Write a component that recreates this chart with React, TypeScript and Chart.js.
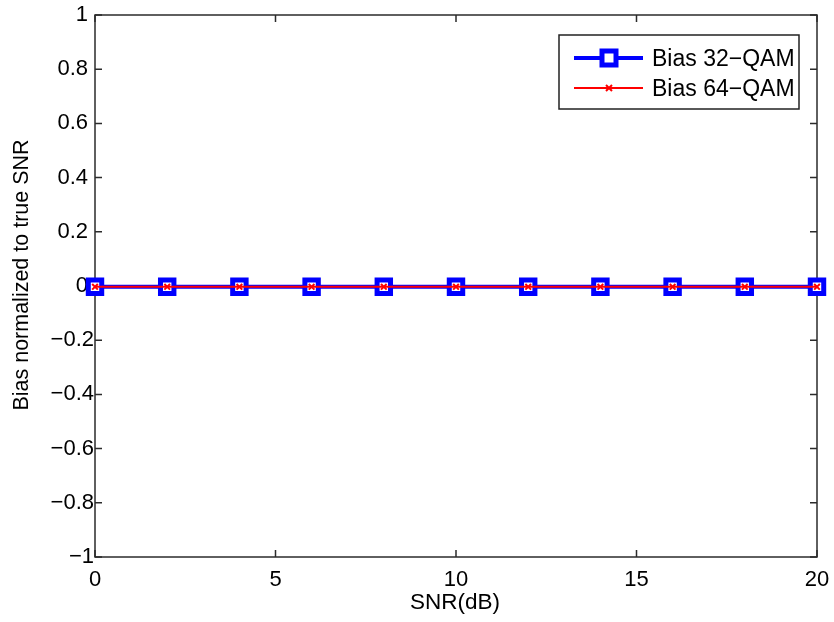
import React, { useEffect, useRef } from 'react';
import { Chart, registerables } from 'chart.js';

Chart.register(...registerables);

const snrDb = [0, 2, 4, 6, 8, 10, 12, 14, 16, 18, 20];
const bias32 = [-0.003, -0.003, -0.003, -0.003, -0.003, -0.003, -0.003, -0.003, -0.003, -0.003, -0.003];
const bias64 = [-0.003, -0.003, -0.003, -0.003, -0.003, -0.003, -0.003, -0.003, -0.003, -0.003, -0.003];
const xTicks = [0, 5, 10, 15, 20];
const xTickLabels = ['0', '5', '10', '15', '20'];
const yTicks = [-1, -0.8, -0.6, -0.4, -0.2, 0, 0.2, 0.4, 0.6, 0.8, 1];
const yTickLabels = ['\u22121', '\u22120.8', '\u22120.6', '\u22120.4', '\u22120.2', '0', '0.2', '0.4', '0.6', '0.8', '1'];
const seriesNames = ['Bias 32\u2212QAM', 'Bias 64\u2212QAM'];
const xTitle = 'SNR(dB)';
const yTitle = 'Bias normalized to true SNR';

const FONT = 'Arial, "Liberation Sans", sans-serif';

const matlabAxes = {
  id: 'matlabAxes',
  beforeDatasetsDraw(chart: any) {
    const { ctx, chartArea: a, scales } = chart;
    const xs = scales.x;
    const ys = scales.y;
    ctx.save();
    ctx.strokeStyle = '#2b2b2b';
    ctx.lineWidth = 1.5;
    ctx.strokeRect(a.left, a.top, a.right - a.left, a.bottom - a.top);
    const tl = 7;
    ctx.beginPath();
    xTicks.forEach((v) => {
      const px = xs.getPixelForValue(v);
      ctx.moveTo(px, a.bottom);
      ctx.lineTo(px, a.bottom - tl);
      ctx.moveTo(px, a.top);
      ctx.lineTo(px, a.top + tl);
    });
    yTicks.forEach((v) => {
      const py = ys.getPixelForValue(v);
      ctx.moveTo(a.left, py);
      ctx.lineTo(a.left + tl, py);
      ctx.moveTo(a.right, py);
      ctx.lineTo(a.right - tl, py);
    });
    ctx.stroke();

    ctx.fillStyle = '#000';
    ctx.font = `22px ${FONT}`;
    ctx.textBaseline = 'middle';
    ctx.textAlign = 'right';
    yTicks.forEach((v, i) => {
      const py = ys.getPixelForValue(v);
      const rx = v < 0 ? a.left - 1 : a.left - 7;
      ctx.fillText(yTickLabels[i], rx, py);
    });
    ctx.textAlign = 'center';
    ctx.textBaseline = 'alphabetic';
    xTicks.forEach((v, i) => {
      const px = xs.getPixelForValue(v);
      ctx.fillText(xTickLabels[i], px, a.bottom + 29);
    });
    ctx.font = `22.5px ${FONT}`;
    ctx.fillText(xTitle, (a.left + a.right) / 2 - 1, a.bottom + 52);
    ctx.save();
    ctx.translate(22, 275);
    ctx.rotate(-Math.PI / 2);
    ctx.textBaseline = 'middle';
    ctx.font = `21.5px ${FONT}`;
    ctx.fillText(yTitle, 0, 0);
    ctx.restore();
    ctx.restore();
  },
  afterDraw(chart: any) {
    const { ctx } = chart;
    ctx.save();
    const bx = 559, by = 35, bw = 240, bh = 74;
    ctx.fillStyle = '#fff';
    ctx.fillRect(bx, by, bw, bh);
    ctx.strokeStyle = '#222';
    ctx.lineWidth = 1.5;
    ctx.strokeRect(bx, by, bw, bh);
    // entry 1
    ctx.strokeStyle = '#0000ff';
    ctx.lineWidth = 4;
    ctx.beginPath();
    ctx.moveTo(574, 58);
    ctx.lineTo(643, 58);
    ctx.stroke();
    ctx.fillStyle = '#fff';
    ctx.fillRect(602, 51, 14, 14);
    ctx.lineWidth = 5;
    ctx.strokeRect(602, 51, 14, 14);
    // entry 2
    ctx.strokeStyle = '#ff0000';
    ctx.lineWidth = 2;
    ctx.beginPath();
    ctx.moveTo(574, 88);
    ctx.lineTo(643, 88);
    ctx.moveTo(606, 85);
    ctx.lineTo(612, 91);
    ctx.moveTo(612, 85);
    ctx.lineTo(606, 91);
    ctx.stroke();
    ctx.fillStyle = '#000';
    ctx.font = `23px ${FONT}`;
    ctx.textAlign = 'left';
    ctx.textBaseline = 'alphabetic';
    ctx.fillText(seriesNames[0], 652, 66);
    ctx.fillText(seriesNames[1], 652, 96);
    ctx.restore();
  },
};

export default function App() {
  const ref = useRef<HTMLCanvasElement | null>(null);
  useEffect(() => {
    if (!ref.current) return;
    const chart = new Chart(ref.current, {
      type: 'line',
      data: {
        datasets: [
          {
            label: seriesNames[0],
            data: snrDb.map((x, i) => ({ x, y: bias32[i] })),
            borderColor: '#0000ff',
            borderWidth: 4,
            pointStyle: 'rect',
            pointRadius: 9.5,
            pointBorderWidth: 5,
            pointBorderColor: '#0000ff',
            pointBackgroundColor: '#ffffff',
            clip: false,
            order: 2,
          },
          {
            label: seriesNames[1],
            data: snrDb.map((x, i) => ({ x, y: bias64[i] })),
            borderColor: '#ff0000',
            borderWidth: 2,
            pointStyle: 'crossRot',
            pointRadius: 4,
            pointBorderWidth: 2,
            pointBorderColor: '#ff0000',
            clip: false,
            order: 1,
          },
        ],
      },
      options: {
        responsive: false,
        animation: false,
        layout: { padding: { left: 95, right: 17, top: 15, bottom: 65 } },
        plugins: { legend: { display: false }, tooltip: { enabled: false } },
        scales: {
          x: { type: 'linear', min: 0, max: 20, display: false },
          y: { type: 'linear', min: -1, max: 1, display: false },
        },
      },
      plugins: [matlabAxes],
    });
    return () => chart.destroy();
  }, []);
  return (
    <div style={{ position: 'absolute', left: 0, top: 0, width: 834, height: 622, background: '#fff' }}>
      <canvas ref={ref} width={834} height={622} />
    </div>
  );
}
